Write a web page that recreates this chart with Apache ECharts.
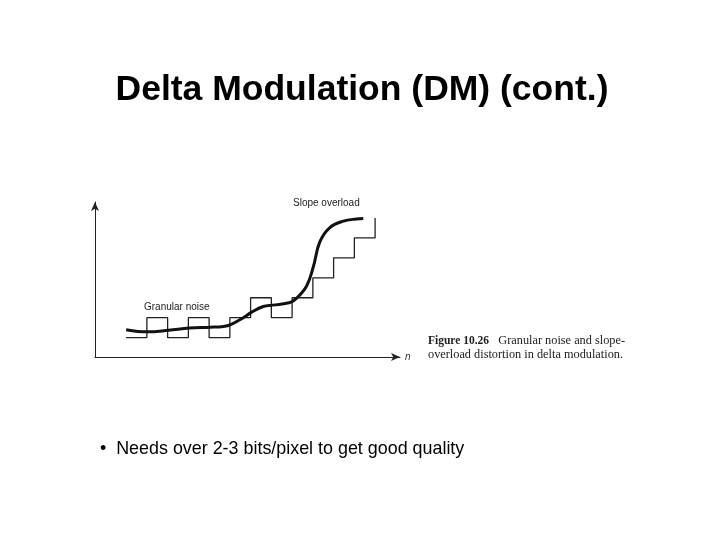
<!DOCTYPE html><html><head><meta charset="utf-8">
<script src="https://cdn.jsdelivr.net/npm/echarts@6/dist/echarts.min.js"></script>
<style>html,body{margin:0;background:#fff}#c{width:720px;height:540px}</style></head><body><div id="c"></div>
<script>
const stepN = [0,1,2,3,4,5,6,7,8,9,10,11,12,12];
const stepLevel = [0,1,0,1,0,1,2,1,2,3,4,5,5,6];
const curveN = [0,1.03,2.05,3.05,4.04,4.69,5.04,5.65,6.07,6.61,7.06,7.9,8.22,8.7,9.02,9.34,9.82,10.47,11.1,11.43];
const curveY = [0.40,0.29,0.37,0.48,0.52,0.56,0.65,1.0,1.29,1.56,1.63,1.76,1.98,2.59,3.54,4.81,5.52,5.84,5.95,5.97];
const chart = echarts.init(document.getElementById('c'));
chart.setOption({
  animation:false,
  title:{text:'Delta Modulation (DM) (cont.)',left:357,top:67,textAlign:'center',
    textStyle:{fontFamily:'Liberation Sans',fontSize:35.5,fontWeight:'bold',color:'#000'}},
  grid:{left:95,top:202,width:305,height:155},
  xAxis:{type:'value',min:-1.5,max:13.2,axisLine:{onZero:false,lineStyle:{color:'#222',width:1},symbol:['none','arrow'],symbolSize:[6,9]},
    axisTick:{show:false},axisLabel:{show:false},splitLine:{show:false},
    name:'n',nameGap:5,nameTextStyle:{fontStyle:'italic',fontSize:10,color:'#333'}},
  yAxis:{type:'value',min:-0.97,max:6.8,axisLine:{show:true,onZero:false,lineStyle:{color:'#222',width:1},symbol:['none','arrow'],symbolSize:[6,9]},
    axisTick:{show:false},axisLabel:{show:false},splitLine:{show:false}},
  series:[
    {type:'line',step:'end',symbol:'none',data:stepN.map((n,i)=>[n,stepLevel[i]]),lineStyle:{color:'#222',width:1.3}},
    {type:'line',smooth:0.4,symbol:'none',data:curveN.map((n,i)=>[n,curveY[i]]),lineStyle:{color:'#111',width:3}}
  ],
  graphic:[
    {type:'text',left:293,top:198,style:{text:'Slope overload',font:'10px Liberation Sans',fill:'#222'}},
    {type:'text',left:144,top:302,style:{text:'Granular noise',font:'10px Liberation Sans',fill:'#222'}},
    {type:'text',left:428,top:334,style:{text:'{b|Figure 10.26}   Granular noise and slope-\noverload distortion in delta modulation.',font:'12.3px Liberation Serif',fill:'#222',lineHeight:14,
      rich:{b:{fontWeight:'bold',fontFamily:'Liberation Serif',fontSize:11.5,fill:'#222'}}}},
    {type:'text',left:100,top:440,style:{text:'•  Needs over 2-3 bits/pixel to get good quality',font:'17.9px Liberation Sans',fill:'#000'}}
  ]
});
</script></body></html>
